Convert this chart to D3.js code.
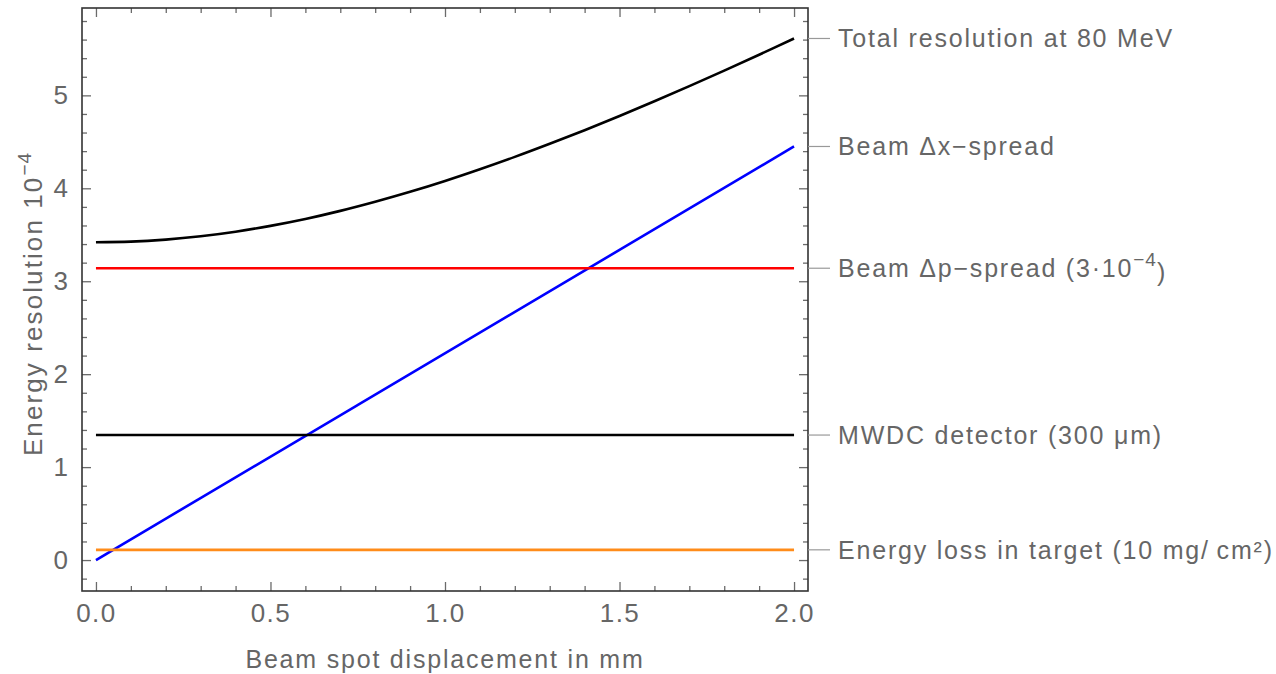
<!DOCTYPE html>
<html><head><meta charset="utf-8">
<script src="https://cdn.jsdelivr.net/npm/d3@7"></script>
<style>
body{margin:0;background:#fff;}
text{font-family:"Liberation Sans",Arial,sans-serif;}
</style></head>
<body><svg id="c" width="1276" height="674"></svg>
<script>
// ---- data ----
const xGrid = [0,0.1,0.2,0.3,0.4,0.5,0.6,0.7,0.8,0.9,1.0,1.1,1.2,1.3,1.4,1.5,1.6,1.7,1.8,1.9,2.0];
const totalRes = [3.42,3.426,3.448,3.484,3.533,3.596,3.670,3.757,3.855,3.962,4.079,4.205,4.338,4.479,4.625,4.778,4.936,5.099,5.266,5.437,5.612];
const xEnds = [0, 2];
const beamDx = [0.0, 4.45];
const beamDp = [3.14, 3.14];
const mwdc = [1.345, 1.345];
const eloss = [0.11, 0.11];
const labels = ["Total resolution at 80 MeV","Beam \u0394x\u2212spread","Beam \u0394p\u2212spread (3\u00b710","MWDC detector (300 \u03bcm)","Energy loss in target (10 mg/\u2009cm\u00b2)"];
const xMajor = [0,0.5,1.0,1.5,2.0];
const xTickLabels = ["0.0","0.5","1.0","1.5","2.0"];
const yMajor = [0,1,2,3,4,5];
const yTickLabels = ["0","1","2","3","4","5"];
const xTitle = "Beam spot displacement in mm";
const yTitle = "Energy resolution 10";

// ---- layout ----
const svg = d3.select("#c");
const L=82,R=808,T=8,B=591;
const x = d3.scaleLinear().domain([-0.04,2.04]).range([L,R]);
const y = d3.scaleLinear().domain([-0.333,5.94]).range([B,T]);
const textCol="#666", tickCol="#6b6b6b", frameCol="#333";
const xMinor = d3.range(0,2.0001,0.1).filter(v=>Math.abs(v*2-Math.round(v*2))>1e-6);
const yMinor = d3.range(-0.2,5.9,0.2).filter(v=>Math.abs(v-Math.round(v))>1e-6);

function styleAxis(g){g.select(".domain").remove();g.selectAll("line").attr("stroke",tickCol).attr("stroke-width",1.3);}
// bottom
svg.append("g").attr("transform",`translate(0,${B})`).call(d3.axisBottom(x).tickValues(xMajor).tickSize(-9).tickFormat((d,i)=>xTickLabels[i]).tickPadding(13))
 .call(styleAxis).call(g=>g.selectAll("text").attr("fill",textCol).style("font-size","26px").style("letter-spacing","1.5px"));
svg.append("g").attr("transform",`translate(0,${B})`).call(d3.axisBottom(x).tickValues(xMinor).tickSize(-5).tickFormat("")).call(styleAxis);
// top
svg.append("g").attr("transform",`translate(0,${T})`).call(d3.axisTop(x).tickValues(xMajor).tickSize(-9).tickFormat("")).call(styleAxis);
svg.append("g").attr("transform",`translate(0,${T})`).call(d3.axisTop(x).tickValues(xMinor).tickSize(-5).tickFormat("")).call(styleAxis);
// left
svg.append("g").attr("transform",`translate(${L},0)`).call(d3.axisLeft(y).tickValues(yMajor).tickSize(-9).tickFormat((d,i)=>yTickLabels[i]).tickPadding(14))
 .call(styleAxis).call(g=>g.selectAll("text").attr("fill",textCol).style("font-size","26px"));
svg.append("g").attr("transform",`translate(${L},0)`).call(d3.axisLeft(y).tickValues(yMinor).tickSize(-5).tickFormat("")).call(styleAxis);
// right
svg.append("g").attr("transform",`translate(${R},0)`).call(d3.axisRight(y).tickValues(yMajor).tickSize(-9).tickFormat("")).call(styleAxis);
svg.append("g").attr("transform",`translate(${R},0)`).call(d3.axisRight(y).tickValues(yMinor).tickSize(-5).tickFormat("")).call(styleAxis);
// frame
svg.append("rect").attr("x",L).attr("y",T).attr("width",R-L).attr("height",B-T).attr("fill","none").attr("stroke",frameCol).attr("stroke-width",1.6);

// ---- series ----
const line = d3.line().x(d=>x(d[0])).y(d=>y(d[1])).curve(d3.curveCatmullRom);
const series = [
 {xs:xGrid, ys:totalRes, color:"#000000"},
 {xs:xEnds, ys:beamDx, color:"#0000ff"},
 {xs:xEnds, ys:beamDp, color:"#ff0000"},
 {xs:xEnds, ys:mwdc, color:"#000000"},
 {xs:xEnds, ys:eloss, color:"#ff8c1a"}
];
series.forEach(s=>{
 svg.append("path").datum(s.xs.map((v,i)=>[v,s.ys[i]])).attr("d",line).attr("fill","none")
  .attr("stroke",s.color).attr("stroke-width",2.6).attr("stroke-linecap","butt");
});

// ---- right labels ----
const ends = series.map(s=>s.ys[s.ys.length-1]);
ends.forEach((v,i)=>{
 const yy=y(v);
 svg.append("line").attr("x1",R).attr("x2",R+22).attr("y1",yy).attr("y2",yy).attr("stroke","#999").attr("stroke-width",1.2);
 const t=svg.append("text").attr("x",R+30).attr("y",yy).attr("dy","0.36em").attr("fill",textCol)
  .style("font-size","25px").style("letter-spacing","1.8px").text(labels[i]);
 if(i===2){
  t.append("tspan").attr("dy","-0.6em").style("font-size","19px").style("letter-spacing","1px").text("\u22124");
  t.append("tspan").attr("dy","0.6em").text(")");
 }
});

// ---- titles ----
svg.append("text").attr("x",(L+R)/2).attr("y",668).attr("text-anchor","middle").attr("fill",textCol)
 .style("font-size","25px").style("letter-spacing","1.8px").text(xTitle);
const yt = svg.append("text").attr("transform",`translate(42,304) rotate(-90)`).attr("text-anchor","middle").attr("fill",textCol)
 .style("font-size","26px").style("letter-spacing","2.1px").text(yTitle);
yt.append("tspan").attr("dy","-0.6em").style("font-size","19px").style("letter-spacing","1px").text("\u22124");
</script></body></html>
